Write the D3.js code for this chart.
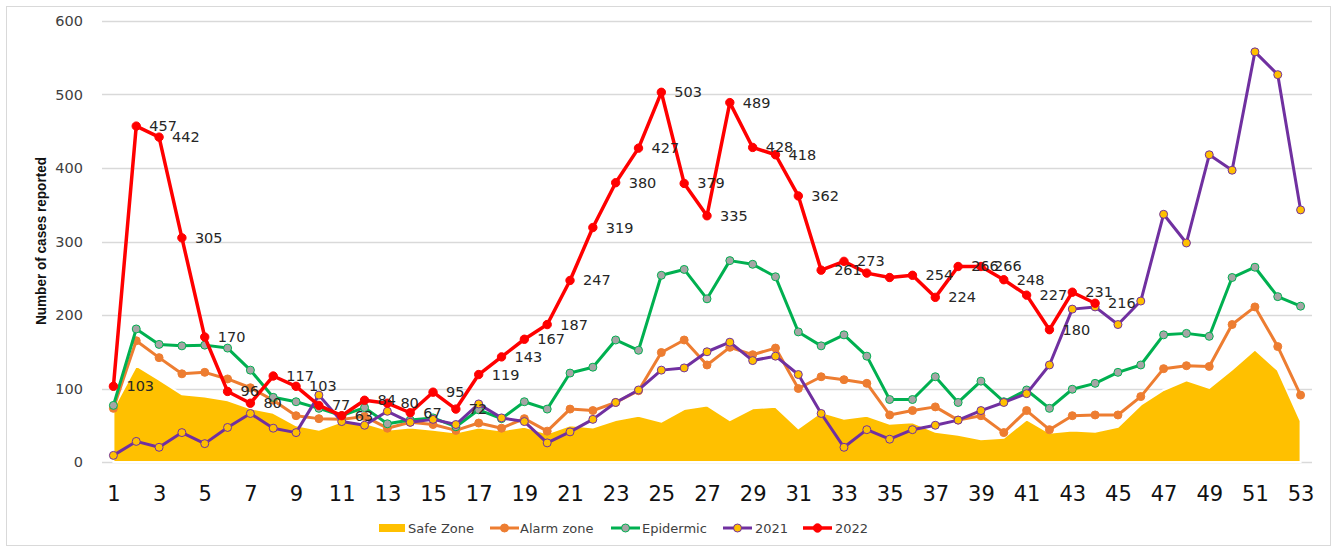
<!DOCTYPE html>
<html>
<head>
<meta charset="utf-8">
<script src="https://cdn.jsdelivr.net/npm/d3@7"></script>
<style>
  body { margin: 0; background: #fff; }
  svg { display: block; }
</style>
</head>
<body>
<div id="chart"></div>
<script>
const weeks = [1, 2, 3, 4, 5, 6, 7, 8, 9, 10, 11, 12, 13, 14, 15, 16, 17, 18, 19, 20,
  21, 22, 23, 24, 25, 26, 27, 28, 29, 30, 31, 32, 33, 34, 35, 36, 37, 38, 39, 40,
  41, 42, 43, 44, 45, 46, 47, 48, 49, 50, 51, 52, 53];

const weekTicks = [1, 3, 5, 7, 9, 11, 13, 15, 17, 19, 21, 23, 25, 27, 29, 31, 33, 35, 37, 39, 41, 43, 45, 47, 49, 51, 53];
const valueTicks = [0, 100, 200, 300, 400, 500, 600];

const safeZone = [73, 131, 112, 92, 89, 84, 73, 67, 50, 44, 55, 53, 44, 47, 44, 40, 47, 43, 48, 39,
  50, 47, 57, 63, 55, 72, 77, 57, 73, 75, 46, 68, 59, 63, 52, 54, 41, 37, 31, 33,
  58, 40, 43, 41, 48, 78, 98, 111, 101, 126, 153, 125, 56];

const alarmZone = [73, 165, 142, 120, 122, 113, 101, 84, 63, 59, 58, 62, 46, 54, 51, 43, 53, 46, 59, 42,
  72, 70, 81, 97, 149, 166, 132, 156, 146, 155, 100, 116, 112, 107, 64, 70, 75, 57, 63, 40,
  70, 44, 63, 64, 64, 89, 127, 131, 130, 187, 211, 157, 91];

const epidemic = [77, 181, 160, 158, 159, 155, 125, 88, 82, 73, 63, 74, 52, 57, 60, 48, 71, 59, 82, 72,
  121, 129, 166, 152, 254, 262, 222, 274, 269, 252, 177, 158, 173, 144, 85, 85, 116, 81, 110, 82,
  98, 73, 99, 107, 122, 132, 173, 175, 171, 251, 265, 225, 212];

const cases2021 = [9, 28, 20, 40, 25, 47, 66, 46, 40, 91, 55, 50, 69, 54, 58, 51, 79, 60, 55, 26,
  41, 58, 81, 98, 125, 128, 150, 163, 138, 144, 119, 66, 20, 44, 31, 44, 50, 57, 70, 81,
  93, 132, 208, 211, 187, 219, 337, 298, 418, 397, 558, 527, 343];

const cases2022 = [103, 457, 442, 305, 170, 96, 80, 117, 103, 77, 63, 84, 80, 67, 95, 72, 119, 143, 167, 187,
  247, 319, 380, 427, 503, 379, 335, 489, 428, 418, 362, 261, 273, 257, 251, 254, 224, 266, 266, 248,
  227, 180, 231, 216];

// weeks whose 2022 label is not shown
const hiddenLabelWeeks = [34, 35];

const W = 1334, H = 546;
const plot = { left: 102, right: 1312, top: 21, bottom: 462 };

const svg = d3.select("#chart")
  .append("svg")
  .attr("width", W)
  .attr("height", H);

// chart border
svg.append("rect")
  .attr("x", 6.5).attr("y", 6.5)
  .attr("width", 1324).attr("height", 539)
  .attr("fill", "#fff")
  .attr("stroke", "#d9d9d9");

const x = d3.scalePoint()
  .domain(weeks)
  .range([plot.left, plot.right])
  .padding(0.5);

const y = d3.scaleLinear()
  .domain([0, 600])
  .range([plot.bottom, plot.top]);

// gridlines
svg.append("g")
  .selectAll("line")
  .data(valueTicks)
  .enter()
  .append("line")
  .attr("x1", plot.left)
  .attr("x2", plot.right)
  .attr("y1", d => Math.round(y(d)) + 0.5)
  .attr("y2", d => Math.round(y(d)) + 0.5)
  .attr("stroke", "#d9d9d9")
  .attr("stroke-width", 1.3);

// y axis
const yAxis = svg.append("g")
  .attr("transform", `translate(${plot.left},0)`)
  .call(d3.axisLeft(y).tickValues(valueTicks).tickSize(0).tickPadding(19));
yAxis.select(".domain").remove();
yAxis.selectAll("text")
  .style("font-family", "DejaVu Sans")
  .style("font-size", "14.5px")
  .attr("fill", "#404040");

// x axis
const xAxis = svg.append("g")
  .attr("transform", `translate(0,${plot.bottom})`)
  .call(d3.axisBottom(x).tickValues(weekTicks).tickSize(0).tickPadding(24));
xAxis.select(".domain").remove();
xAxis.selectAll("text")
  .style("font-family", "DejaVu Sans")
  .style("font-size", "21px")
  .attr("fill", "#111");

// y axis title
svg.append("text")
  .attr("transform", "translate(40,241) rotate(-90)")
  .attr("text-anchor", "middle")
  .attr("dominant-baseline", "central")
  .attr("textLength", 168)
  .attr("lengthAdjust", "spacingAndGlyphs")
  .style("font-family", "Liberation Sans Narrow, Arial Narrow, sans-serif")
  .style("font-weight", "bold")
  .style("font-size", "15px")
  .attr("fill", "#111")
  .text("Number of cases reported");

// safe zone area
const area = d3.area()
  .x((d, i) => x(weeks[i]))
  .y0(y(0))
  .y1(d => y(d));

svg.append("path")
  .datum(safeZone)
  .attr("d", area)
  .attr("fill", "#ffc000")
  .attr("stroke", "#fff")
  .attr("stroke-width", 2);

const line = d3.line()
  .x((d, i) => x(weeks[i]))
  .y(d => y(d));

const series = [
  { name: "Alarm zone", values: alarmZone, color: "#ed7d31", fill: "#ed7d31", width: 3, r: 4 },
  { name: "Epidermic", values: epidemic, color: "#00b050", fill: "#a5a5a5", width: 3, r: 4 },
  { name: "2021", values: cases2021, color: "#7030a0", fill: "#ffc000", width: 3, r: 4 },
  { name: "2022", values: cases2022, color: "#ff0000", fill: "#ff0000", width: 3.5, r: 4.2 }
];

series.forEach(s => {
  svg.append("path")
    .datum(s.values)
    .attr("d", line)
    .attr("fill", "none")
    .attr("stroke", s.color)
    .attr("stroke-width", s.width)
    .attr("stroke-linejoin", "round");

  svg.append("g")
    .selectAll("circle")
    .data(s.values)
    .enter()
    .append("circle")
    .attr("cx", (d, i) => x(weeks[i]))
    .attr("cy", d => y(d))
    .attr("r", s.r)
    .attr("fill", s.fill)
    .attr("stroke", s.color)
    .attr("stroke-width", 1);
});

// 2022 data labels
svg.append("g")
  .selectAll("text")
  .data(cases2022.map((v, i) => ({ week: weeks[i], v })).filter(d => !hiddenLabelWeeks.includes(d.week)))
  .enter()
  .append("text")
  .attr("x", d => x(d.week) + 13)
  .attr("y", d => y(d.v))
  .attr("dominant-baseline", "central")
  .style("font-family", "DejaVu Sans")
  .style("font-size", "14.5px")
  .attr("fill", "#262626")
  .text(d => d.v);

// legend
const legend = svg.append("g").style("font-family", "DejaVu Sans").style("font-size", "13px");
const legendY = 528;

legend.append("rect")
  .attr("x", 379).attr("y", legendY - 4)
  .attr("width", 26).attr("height", 8)
  .attr("fill", "#ffc000");
legend.append("text")
  .attr("x", 408).attr("y", legendY)
  .attr("dominant-baseline", "central")
  .attr("fill", "#404040")
  .text("Safe Zone");

const legendItems = [
  { s: series[0], x0: 490, tx: 520 },
  { s: series[1], x0: 611, tx: 642 },
  { s: series[2], x0: 723, tx: 755 },
  { s: series[3], x0: 803, tx: 835 }
];

legendItems.forEach(({ s, x0, tx }) => {
  legend.append("line")
    .attr("x1", x0).attr("x2", x0 + 29)
    .attr("y1", legendY).attr("y2", legendY)
    .attr("stroke", s.color)
    .attr("stroke-width", s.width);
  legend.append("circle")
    .attr("cx", x0 + 14.5).attr("cy", legendY)
    .attr("r", s.r)
    .attr("fill", s.fill)
    .attr("stroke", s.color);
  legend.append("text")
    .attr("x", tx).attr("y", legendY)
    .attr("dominant-baseline", "central")
    .attr("fill", "#404040")
    .text(s.name);
});
</script>
</body>
</html>
